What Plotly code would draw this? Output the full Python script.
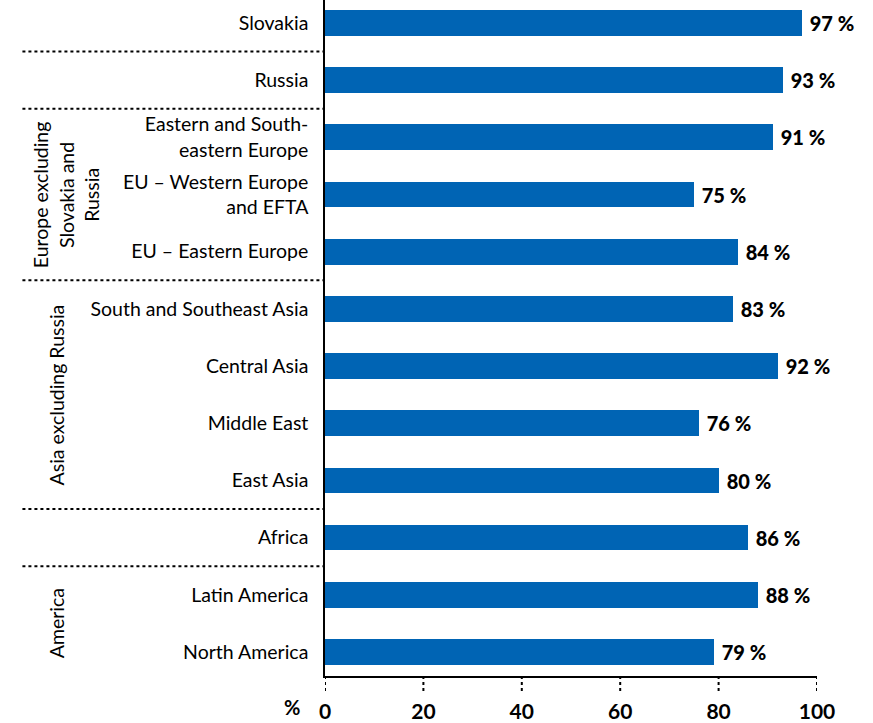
import plotly.graph_objects as go

# Share of respondents per region (%)
regions = [
    "Slovakia",
    "Russia",
    "Eastern and South-<br>eastern Europe",
    "EU – Western Europe<br>and EFTA",
    "EU – Eastern Europe",
    "South and Southeast Asia",
    "Central Asia",
    "Middle East",
    "East Asia",
    "Africa",
    "Latin America",
    "North America",
]
values = [97, 93, 91, 75, 84, 83, 92, 76, 80, 86, 88, 79]

# Region groupings drawn as rotated labels on the left
group_labels = ["Europe excluding<br>Slovakia and<br>Russia", "Asia excluding Russia", "America"]
group_spans = [(2, 4), (5, 8), (10, 11)]
# Dotted separators sit between these row positions
separators = [0.5, 1.5, 4.5, 8.5, 9.5]

x_ticks = [0, 20, 40, 60, 80, 100]

BLUE = "#0064b4"
FONT = "Lato"

pos = list(range(len(regions)))

fig = go.Figure()
fig.add_trace(go.Bar(
    x=values,
    y=pos,
    orientation="h",
    width=0.45,
    marker=dict(color=BLUE, line=dict(width=0)),
    text=[f" {v} %" for v in values],
    textposition="outside",
    textfont=dict(family=FONT, size=20, color="black", weight=900),
    cliponaxis=False,
    hoverinfo="skip",
))

shapes = []
for s in separators:
    shapes.append(dict(
        type="line", xref="paper", yref="y",
        x0=-0.615, x1=0, y0=s, y1=s,
        line=dict(color="black", width=2, dash="dot"),
    ))
for t in x_ticks:
    shapes.append(dict(
        type="line", xref="x", yref="paper",
        x0=t, x1=t, y0=0, y1=-0.024,
        line=dict(color="black", width=2, dash="dot"),
    ))

annotations = []
x_pos = [-0.525, -0.545, -0.545]
for (a, b), lab, xp in zip(group_spans, group_labels, x_pos):
    annotations.append(dict(
        text=lab, xref="paper", yref="y",
        x=xp, y=(a + b) / 2, textangle=-90,
        showarrow=False, align="center",
        font=dict(family=FONT, size=19.5, color="black"),
        xanchor="center", yanchor="middle",
    ))
annotations.append(dict(
    text="<b>%</b>", xref="paper", yref="paper",
    x=-0.067, y=-0.046, showarrow=False,
    font=dict(family=FONT, size=20, color="black", weight=900),
    xanchor="center", yanchor="middle",
))

fig.update_layout(
    width=873, height=723,
    margin=dict(l=325, r=56, t=0, b=41),
    paper_bgcolor="white", plot_bgcolor="white",
    showlegend=False,
    bargap=0,
    shapes=shapes,
    annotations=annotations,
    xaxis=dict(
        range=[0, 100],
        tickvals=x_ticks,
        ticktext=[f"<b>{t}</b>" for t in x_ticks],
        ticks="outside", ticklen=16, tickcolor="rgba(0,0,0,0)",
        tickfont=dict(family=FONT, size=21, color="black", weight=900),
        showgrid=False, zeroline=False,
        showline=True, linecolor="black", linewidth=1.5,
        fixedrange=True,
    ),
    yaxis=dict(
        range=[11.42, -0.40],
        tickvals=pos,
        ticktext=regions,
        ticks="outside", ticklen=11, tickcolor="rgba(0,0,0,0)",
        tickfont=dict(family=FONT, size=19.5, color="black"),
        showgrid=False, zeroline=False,
        showline=True, linecolor="black", linewidth=1.5,
        fixedrange=True,
    ),
)

fig.write_html("out.html")
